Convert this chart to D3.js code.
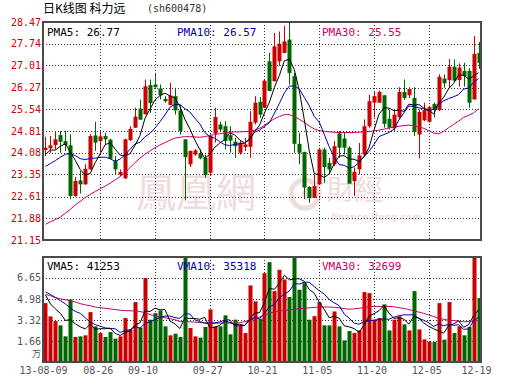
<!DOCTYPE html>
<html>
<head>
<meta charset="utf-8">
<script src="https://cdn.jsdelivr.net/npm/d3@7"></script>
<style>
  body { margin: 0; background: #fff; }
  text { font-family: "DejaVu Sans Mono", monospace; font-size: 10px; }
</style>
</head>
<body>
<div class="chart"></div>
<script>
// daily candles, 13-08-09 .. 13-12-19
const opens = [24.17,24.23,24.34,24.67,24.47,24.33,22.63,23.15,23.02,23.52,
  24.66,24.47,24.64,24.52,23.82,23.35,23.22,24.50,24.92,25.56,
  25.37,26.35,26.37,26.24,25.89,25.68,25.98,25.50,24.53,23.69,
  24.02,24.05,23.91,23.41,24.72,25.03,24.97,24.67,24.45,24.08,
  24.27,24.28,25.09,25.79,25.59,27.15,26.48,27.15,27.43,27.88,
  26.65,24.38,24.11,22.93,22.57,23.02,24.19,23.74,23.69,24.73,
  24.56,24.25,23.13,23.52,24.02,24.97,25.76,25.76,26.01,25.22,
  24.90,25.28,26.12,26.01,25.92,24.69,25.17,25.12,25.72,25.51,
  26.57,26.52,26.97,26.52,26.83,26.83,25.87,27.43];
const highs = [24.62,24.64,24.81,24.81,24.81,24.70,23.26,23.47,23.69,24.70,
  25.12,24.81,24.75,24.55,23.97,23.52,24.55,24.97,25.59,25.87,
  26.54,26.54,26.76,26.37,25.98,26.43,26.26,25.68,24.53,24.16,
  24.20,24.20,24.02,24.70,25.59,25.12,25.14,24.97,24.58,24.47,
  24.58,25.48,25.98,25.95,26.53,27.43,28.10,28.15,28.34,28.47,
  26.76,24.75,24.11,22.96,23.35,24.25,24.25,23.91,24.47,24.81,
  24.75,24.30,23.58,24.41,25.20,26.03,26.15,26.17,26.01,25.53,
  25.53,26.28,26.54,26.28,26.28,25.53,25.76,25.65,25.76,26.71,
  26.71,27.23,27.21,27.08,27.10,26.92,28.00,27.80];
const lows = [23.97,24.08,24.19,24.08,24.14,22.52,22.60,22.71,23.00,23.52,
  24.14,24.14,24.36,23.86,23.35,23.30,23.20,24.48,24.92,25.19,
  25.37,25.42,26.26,25.87,25.76,25.68,25.36,24.69,22.48,23.60,
  23.98,23.86,23.24,23.30,24.42,24.81,24.19,24.08,23.91,24.02,
  24.14,23.91,25.03,25.25,25.59,26.15,26.48,27.00,27.43,26.37,
  24.08,23.69,22.52,22.40,22.57,23.02,23.07,23.35,23.63,23.91,
  24.02,23.04,22.63,23.35,23.97,24.92,25.26,25.76,24.92,24.86,
  24.81,25.20,25.86,25.92,24.64,23.89,25.14,25.09,25.26,25.48,
  26.26,26.26,26.47,26.30,26.30,25.59,25.87,26.90];
const closes = [24.25,24.33,24.53,24.45,24.34,22.63,23.13,23.02,23.54,24.64,
  24.42,24.63,24.53,23.88,23.52,23.43,24.53,24.88,25.29,25.19,
  26.31,25.75,26.28,26.01,25.81,26.00,25.50,24.81,23.93,24.14,
  24.16,23.89,23.33,24.64,25.28,24.86,24.47,24.49,24.30,24.42,
  24.36,25.12,25.76,25.36,26.50,26.15,27.65,27.74,27.82,26.76,
  24.38,24.08,22.91,22.57,22.96,24.19,23.60,23.52,24.30,24.25,
  24.25,23.04,23.44,23.99,24.97,25.81,25.98,26.12,25.05,24.92,
  25.36,26.12,25.92,26.22,24.78,25.45,25.51,25.61,25.54,26.63,
  26.41,26.97,26.50,26.94,26.65,25.76,27.40,27.10];

// price moving averages as drawn
const ma5 = [24.02,24.17,24.17,24.30,24.38,24.10,23.82,23.51,23.33,23.39,
  23.75,24.05,24.35,24.42,24.20,24.00,23.98,24.05,24.33,24.66,
  25.24,25.55,25.85,26.00,26.08,25.99,25.92,25.63,25.21,24.88,
  24.51,24.19,23.89,24.03,24.26,24.40,24.52,24.75,24.68,24.51,
  24.41,24.54,24.79,25.00,25.42,25.78,26.28,26.68,27.17,27.22,
  26.87,26.16,25.19,24.14,23.38,23.34,23.25,23.37,23.71,23.97,
  23.98,23.87,23.86,23.79,23.94,24.25,24.84,25.37,25.59,25.58,
  25.49,25.51,25.47,25.71,25.68,25.70,25.58,25.51,25.38,25.75,
  25.94,26.23,26.41,26.69,26.69,26.56,26.65,26.77];
const ma10 = [23.62,23.72,23.82,23.93,24.03,24.05,23.98,23.88,23.85,23.89,
  23.90,23.93,23.93,23.88,23.79,23.87,24.01,24.20,24.38,24.43,
  24.62,24.73,24.91,25.12,25.35,25.61,25.70,25.70,25.56,25.45,
  25.24,25.05,24.76,24.62,24.57,24.45,24.35,24.32,24.36,24.38,
  24.40,24.53,24.77,24.84,24.96,25.09,25.41,25.74,26.09,26.32,
  26.32,26.22,25.94,25.66,25.30,25.11,24.70,24.28,23.93,23.68,
  23.66,23.56,23.61,23.75,23.96,24.12,24.36,24.62,24.69,24.76,
  24.87,25.18,25.42,25.65,25.63,25.59,25.55,25.49,25.54,25.71,
  25.82,25.90,25.96,26.03,26.22,26.25,26.44,26.57];
const ma30 = [21.68,21.76,21.84,21.92,22.05,22.18,22.33,22.45,22.58,22.68,
  22.78,22.87,22.96,23.06,23.17,23.28,23.42,23.58,23.75,23.90,
  24.03,24.14,24.25,24.34,24.42,24.50,24.57,24.60,24.62,24.62,
  24.61,24.60,24.62,24.66,24.69,24.72,24.75,24.77,24.78,24.78,
  24.79,24.80,24.83,24.90,25.00,25.12,25.22,25.30,25.36,25.36,
  25.30,25.20,25.10,24.98,24.88,24.82,24.80,24.78,24.77,24.76,
  24.76,24.76,24.76,24.77,24.78,24.79,24.81,24.84,24.87,24.91,
  24.94,24.97,24.99,25.01,24.98,24.94,24.90,24.82,24.74,24.72,
  24.80,24.92,25.03,25.14,25.27,25.33,25.42,25.55];

// volume, in 10k lots (万)
const volumes = [4.66,3.61,3.24,2.90,2.03,4.95,1.98,2.03,2.11,3.95,
  2.82,2.29,1.98,2.37,1.85,2.03,3.48,2.56,4.74,2.72,
  6.64,3.35,3.87,4.08,2.82,2.11,2.24,1.98,8.25,2.69,
  2.03,1.93,2.77,4.16,2.82,2.82,3.69,2.19,3.35,2.90,
  2.29,6.06,4.80,3.43,7.03,7.90,5.61,7.30,6.53,5.14,
  8.25,5.72,6.24,3.35,3.63,4.74,2.90,2.90,4.00,2.82,
  1.71,2.45,2.29,2.50,5.53,5.45,3.35,3.48,4.56,2.50,
  3.35,3.61,2.98,2.50,5.61,2.58,1.79,1.58,1.58,4.66,
  1.77,4.74,2.29,2.82,2.11,2.77,8.25,5.06];
const vma5 = [5.30,4.60,4.20,3.85,3.29,3.35,3.02,2.78,2.62,3.00,
  2.58,2.64,2.63,2.68,2.26,2.10,2.34,2.46,2.93,3.11,
  4.03,4.00,4.26,4.13,4.15,3.25,3.02,2.65,3.48,3.45,
  3.44,3.38,3.53,2.72,2.74,2.90,3.25,3.14,2.97,2.99,
  2.88,3.36,3.88,3.90,4.72,5.84,5.75,6.25,6.87,6.50,
  6.57,6.59,6.38,5.74,5.44,4.74,4.17,3.50,3.63,3.47,
  2.87,2.78,2.65,2.35,2.90,3.64,3.82,4.06,4.47,3.87,
  3.45,3.50,3.40,2.99,3.61,3.46,3.09,2.81,2.63,2.44,
  2.28,2.87,3.01,3.26,2.75,2.95,3.65,4.1253];
const vma10 = [5.55,5.35,5.10,4.85,4.60,4.25,4.00,3.85,3.50,3.15,
  2.96,2.83,2.70,2.65,2.63,2.34,2.49,2.54,2.81,2.68,
  3.07,3.17,3.36,3.53,3.63,3.64,3.51,3.46,3.81,3.80,
  3.34,3.20,3.09,3.10,3.10,3.17,3.31,3.34,2.85,2.87,
  2.89,3.31,3.51,3.44,3.86,4.36,4.56,5.07,5.39,5.61,
  6.21,6.17,6.32,6.31,5.97,5.65,5.38,4.94,4.69,4.46,
  3.80,3.47,3.08,2.99,3.18,3.26,3.30,3.36,3.41,3.38,
  3.55,3.66,3.73,3.73,3.74,3.45,3.30,3.11,2.81,3.02,
  2.87,2.98,2.91,2.94,2.59,2.61,3.26,3.5318];
const vma30 = [5.35,5.25,5.10,5.00,4.92,4.85,4.75,4.62,4.52,4.45,
  4.35,4.30,4.25,4.20,4.15,4.10,4.07,4.05,4.04,4.00,
  3.90,3.75,3.65,3.56,3.50,3.43,3.35,3.20,3.20,3.18,
  3.16,3.12,3.08,3.05,3.06,3.08,3.08,3.08,3.08,3.10,
  3.20,3.30,3.43,3.56,3.72,3.87,3.96,4.03,4.08,4.13,
  4.17,4.21,4.25,4.29,4.32,4.35,4.35,4.35,4.33,4.29,
  4.22,4.18,4.20,4.25,4.30,4.38,4.40,4.40,4.40,4.40,
  4.37,4.30,4.24,4.15,4.05,3.95,3.85,3.72,3.60,3.45,
  3.38,3.30,3.28,3.24,3.18,3.20,3.25,3.2699];

const priceTicks = ["21.15","21.88","22.61","23.35","24.08","24.81","25.54","26.27","27.01","27.74","28.47"];
const volTicks = ["1.66","3.32","4.98","6.65"];
const dateLabels = ["13-08-09","08-26","09-10","09-27","10-21","11-05","11-20","12-05","12-19"];
const dateIndex = [0, 11, 20, 33, 44, 55, 66, 77, 87];
const gridIndex = [11, 22, 33, 44, 55, 66, 77];

const W = 530, H = 391;
const RED = "#cc0000", GREEN = "#006600", BLUE = "#0000aa", PINK = "#cc0066";

var svg = d3.select(".chart").append("svg")
    .attr("width", W).attr("height", H);

var n = closes.length;
var x = d3.scaleBand().domain(d3.range(n)).range([43, 481]);
var cx = function(i) { return x(i) + x.bandwidth() / 2; };
var y = d3.scaleLinear().domain([21.15, 28.47]).range([240, 22]);
var yv = d3.scaleLinear().domain([0, 8.31]).range([362, 257]);

// title
svg.append("text").attr("x", 43).attr("y", 13)
    .style("font-family", "'Noto Sans CJK SC'").style("font-size", "12px")
    .text("日K线图 科力远");
svg.append("text").attr("x", 147).attr("y", 12).attr("fill", "#333")
    .text("(sh600478)");

// watermark
var wm = svg.append("g").attr("fill", "#efdcdc");
wm.append("text").attr("x", 136).attr("y", 207)
    .style("font-family", "'Noto Sans CJK TC'").style("font-size", "40px")
    .text("鳳凰網");
wm.append("circle").attr("cx", 305).attr("cy", 194).attr("r", 14)
    .attr("fill", "none").attr("stroke", "#efdcdc").attr("stroke-width", 5);
wm.append("circle").attr("cx", 308).attr("cy", 194).attr("r", 6);
wm.append("text").attr("x", 327).attr("y", 200)
    .style("font-family", "'Noto Sans CJK TC'").style("font-size", "28px")
    .text("財經");
wm.append("text").attr("x", 331).attr("y", 220)
    .style("font-family", "'DejaVu Sans'").style("font-size", "9px").style("font-weight", "bold")
    .text("finance.ifeng.com");

function grid(g, top, bottom, yLines) {
    g.selectAll(".vg").data(gridIndex).enter().append("line")
        .attr("x1", function(d) { return Math.round(cx(d)) + 0.5; })
        .attr("x2", function(d) { return Math.round(cx(d)) + 0.5; })
        .attr("y1", top).attr("y2", bottom)
        .attr("stroke", "#333").attr("stroke-dasharray", "1,2");
    g.selectAll(".hg").data(yLines).enter().append("line")
        .attr("x1", 43).attr("x2", 481)
        .attr("y1", function(d) { return Math.round(d) + 0.5; })
        .attr("y2", function(d) { return Math.round(d) + 0.5; })
        .attr("stroke", "#333").attr("stroke-dasharray", "1,2");
}

// ---- price panel ----
var pg = svg.append("g");
grid(pg, 22, 240, priceTicks.slice(1, -1).map(function(t) { return y(+t); }));

pg.selectAll(".plab").data(priceTicks).enter().append("text")
    .attr("x", 41).attr("y", function(d) { return y(+d); })
    .attr("dy", "0.35em").attr("text-anchor", "end").attr("fill", RED)
    .text(function(d) { return d; });

var candles = pg.selectAll(".candle").data(d3.range(n)).enter().append("g")
    .attr("fill", function(i) { return closes[i] >= opens[i] ? RED : GREEN; })
    .attr("stroke", function(i) { return closes[i] >= opens[i] ? RED : GREEN; });
candles.append("line")
    .attr("x1", function(i) { return Math.round(cx(i)) + 0.5; })
    .attr("x2", function(i) { return Math.round(cx(i)) + 0.5; })
    .attr("y1", function(i) { return y(highs[i]); })
    .attr("y2", function(i) { return y(lows[i]); });
candles.append("rect")
    .attr("stroke", "none")
    .attr("x", function(i) { return Math.round(cx(i)) - 1.5; })
    .attr("width", 4)
    .attr("y", function(i) { return y(Math.max(opens[i], closes[i])); })
    .attr("height", function(i) { return Math.max(1, Math.abs(y(opens[i]) - y(closes[i]))); });

function maLine(values, scale) {
    return d3.line().x(function(d, i) { return cx(i); }).y(function(d) { return scale(d); })(values);
}
[[ma30, PINK], [ma10, BLUE], [ma5, "#000"]].forEach(function(s) {
    pg.append("path").attr("d", maLine(s[0], y))
        .attr("fill", "none").attr("stroke", s[1]).attr("stroke-width", 1);
});

pg.append("rect").attr("x", 43).attr("y", 22).attr("width", 438).attr("height", 218)
    .attr("fill", "none").attr("stroke", "#4a4a4a").attr("stroke-width", 2);

var legendP = [["PMA5: " + ma5[n - 1].toFixed(2), "#000", 47],
               ["PMA10: " + ma10[n - 1].toFixed(2), BLUE, 177],
               ["PMA30: " + ma30[n - 1].toFixed(2), PINK, 322]];
pg.selectAll(".lg").data(legendP).enter().append("text")
    .attr("x", function(d) { return d[2]; }).attr("y", 36)
    .attr("fill", function(d) { return d[1]; }).style("font-size", "11px")
    .text(function(d) { return d[0]; });

// ---- volume panel ----
var vg = svg.append("g");
grid(vg, 257, 362, volTicks.map(function(t) { return yv(+t); }));

vg.selectAll(".vlab").data(volTicks).enter().append("text")
    .attr("x", 41).attr("y", function(d) { return yv(+d); })
    .attr("dy", "0.35em").attr("text-anchor", "end").attr("fill", "#555")
    .text(function(d) { return d; });
vg.append("text").attr("x", 41).attr("y", 357).attr("text-anchor", "end")
    .attr("fill", "#555").style("font-family", "'Noto Sans CJK SC'").style("font-size", "9px")
    .text("万");

vg.selectAll(".vbar").data(d3.range(n)).enter().append("rect")
    .attr("x", function(i) { return Math.round(cx(i)) - 1.5; })
    .attr("width", 4)
    .attr("y", function(i) { return yv(volumes[i]); })
    .attr("height", function(i) { return 362 - yv(volumes[i]); })
    .attr("fill", function(i) { return closes[i] >= opens[i] ? RED : GREEN; });

[[vma30, PINK], [vma10, BLUE], [vma5, "#000"]].forEach(function(s) {
    vg.append("path").attr("d", maLine(s[0], yv))
        .attr("fill", "none").attr("stroke", s[1]).attr("stroke-width", 1);
});

vg.append("rect").attr("x", 43).attr("y", 257).attr("width", 438).attr("height", 105)
    .attr("fill", "none").attr("stroke", "#4a4a4a").attr("stroke-width", 2);

var legendV = [["VMA5: " + Math.round(vma5[n - 1] * 10000), "#000", 47],
               ["VMA10: " + Math.round(vma10[n - 1] * 10000), BLUE, 177],
               ["VMA30: " + Math.round(vma30[n - 1] * 10000), PINK, 322]];
vg.selectAll(".lgv").data(legendV).enter().append("text")
    .attr("x", function(d) { return d[2]; }).attr("y", 270)
    .attr("fill", function(d) { return d[1]; }).style("font-size", "11px")
    .text(function(d) { return d[0]; });

// date axis
svg.selectAll(".dlab").data(dateIndex).enter().append("text")
    .attr("x", function(d) { return cx(d) - 2; }).attr("y", 374)
    .attr("text-anchor", "middle").attr("fill", "#555")
    .text(function(d, k) { return dateLabels[k]; });
</script>
</body>
</html>
